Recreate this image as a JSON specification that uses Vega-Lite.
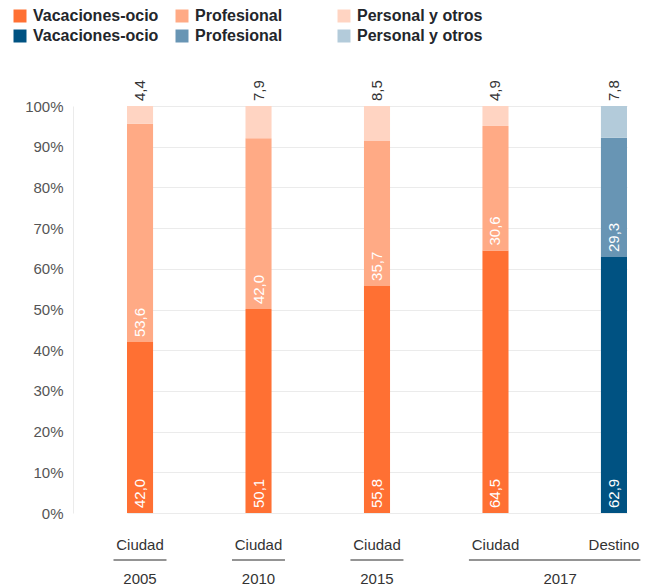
{
  "$schema": "https://vega.github.io/schema/vega-lite/v6.json",
  "autosize": {"type": "none"},
  "padding": {"left": 73, "top": 106, "right": 7, "bottom": 74},
  "width": 587,
  "height": 407,
  "config": {
    "view": {"stroke": null},
    "font": "Liberation Sans",
    "locale": {"number": {"decimal": ",", "thousands": ".", "grouping": [3], "currency": ["", " €"]}}
  },
  "resolve": {"scale": {"x": "independent", "y": "independent"}},
  "layer": [
    {
      "data": {
        "values": [
          {"anio": "2005", "tipo": "Ciudad", "motivo": "Vacaciones-ocio", "pct": 42.0},
          {"anio": "2005", "tipo": "Ciudad", "motivo": "Profesional", "pct": 53.6},
          {"anio": "2005", "tipo": "Ciudad", "motivo": "Personal y otros", "pct": 4.4},
          {"anio": "2010", "tipo": "Ciudad", "motivo": "Vacaciones-ocio", "pct": 50.1},
          {"anio": "2010", "tipo": "Ciudad", "motivo": "Profesional", "pct": 42.0},
          {"anio": "2010", "tipo": "Ciudad", "motivo": "Personal y otros", "pct": 7.9},
          {"anio": "2015", "tipo": "Ciudad", "motivo": "Vacaciones-ocio", "pct": 55.8},
          {"anio": "2015", "tipo": "Ciudad", "motivo": "Profesional", "pct": 35.7},
          {"anio": "2015", "tipo": "Ciudad", "motivo": "Personal y otros", "pct": 8.5},
          {"anio": "2017", "tipo": "Ciudad", "motivo": "Vacaciones-ocio", "pct": 64.5},
          {"anio": "2017", "tipo": "Ciudad", "motivo": "Profesional", "pct": 30.6},
          {"anio": "2017", "tipo": "Ciudad", "motivo": "Personal y otros", "pct": 4.9},
          {"anio": "2017", "tipo": "Destino", "motivo": "Vacaciones-ocio", "pct": 62.9},
          {"anio": "2017", "tipo": "Destino", "motivo": "Profesional", "pct": 29.3},
          {"anio": "2017", "tipo": "Destino", "motivo": "Personal y otros", "pct": 7.8}
        ]
      },
      "transform": [
        {"calculate": "datum.anio + ' ' + datum.tipo", "as": "cat"},
        {"calculate": "datum.tipo + '|' + datum.motivo", "as": "clave"},
        {"calculate": "indexof(['Vacaciones-ocio','Profesional','Personal y otros'], datum.motivo)", "as": "orden"},
        {"stack": "pct", "groupby": ["cat"], "sort": [{"field": "orden", "order": "ascending"}], "as": ["y0", "y1"]}
      ],
      "encoding": {
        "x": {
          "field": "cat",
          "type": "nominal",
          "sort": null,
          "scale": {
            "type": "band",
            "domain": ["2005 Ciudad", "2010 Ciudad", "2015 Ciudad", "2017 Ciudad", "2017 Destino"],
            "range": [54, 554],
            "paddingInner": 0.78,
            "paddingOuter": 0
          },
          "axis": {
            "title": null,
            "labelExpr": "split(datum.value, ' ')[1]",
            "labelAngle": 0,
            "labelFontSize": 15,
            "labelColor": "#333333",
            "labelPadding": 24,
            "ticks": false,
            "domain": false,
            "grid": false
          }
        },
        "y": {
          "field": "y0",
          "type": "quantitative",
          "scale": {"domain": [0, 100], "nice": false},
          "axis": {
            "title": null,
            "values": [0, 10, 20, 30, 40, 50, 60, 70, 80, 90, 100],
            "labelExpr": "datum.value + '%'",
            "labelFontSize": 15,
            "labelColor": "#555555",
            "labelPadding": 10,
            "ticks": false,
            "domain": true,
            "domainColor": "#ebebeb",
            "gridColor": "#ebebeb",
            "grid": true
          }
        }
      },
      "layer": [
        {
          "mark": {"type": "bar"},
          "encoding": {
            "y2": {"field": "y1"},
            "color": {
              "field": "clave",
              "type": "nominal",
              "scale": {
                "domain": ["Ciudad|Vacaciones-ocio", "Ciudad|Profesional", "Ciudad|Personal y otros", "Destino|Vacaciones-ocio", "Destino|Profesional", "Destino|Personal y otros"],
                "range": ["#ff7033", "#ffaa85", "#ffd4c2", "#005282", "#6895b4", "#b3cbda"]
              },
              "legend": {
                "title": null,
                "orient": "none",
                "legendX": -61,
                "legendY": -98,
                "columns": 3,
                "direction": "horizontal",
                "gridAlign": "all",
                "columnPadding": 15,
                "rowPadding": 4,
                "padding": 0,
                "symbolType": "square",
                "symbolSize": 169,
                "symbolStrokeWidth": 0,
                "symbolOpacity": 1,
                "labelOffset": 5,
                "labelFontSize": 16,
                "labelFontWeight": "bold",
                "labelColor": "#23262b",
                "labelLimit": 300,
                "labelExpr": "split(datum.label, '|')[1]"
              }
            }
          }
        },
        {
          "transform": [{"filter": "datum.motivo != 'Personal y otros'"}],
          "mark": {"type": "text", "angle": 270, "align": "left", "baseline": "middle", "dx": 5, "fontSize": 15, "color": "#ffffff"},
          "encoding": {
            "text": {"field": "pct", "type": "quantitative", "format": ".1f"}
          }
        },
        {
          "transform": [{"filter": "datum.motivo == 'Personal y otros'"}],
          "mark": {"type": "text", "angle": 270, "align": "left", "baseline": "middle", "dx": 5, "fontSize": 15, "color": "#333333"},
          "encoding": {
            "y": {"field": "y1", "type": "quantitative"},
            "text": {"field": "pct", "type": "quantitative", "format": ".1f"}
          }
        }
      ]
    },
    {
      "data": {
        "values": [
          {"anio": "2005", "desde": "2005 Ciudad", "hasta": "2005 Ciudad"},
          {"anio": "2010", "desde": "2010 Ciudad", "hasta": "2010 Ciudad"},
          {"anio": "2015", "desde": "2015 Ciudad", "hasta": "2015 Ciudad"},
          {"anio": "2017", "desde": "2017 Ciudad", "hasta": "2017 Destino"}
        ]
      },
      "layer": [
        {
          "mark": {"type": "rule", "color": "#707070", "strokeWidth": 1.5},
          "encoding": {
            "x": {
              "field": "desde",
              "type": "nominal",
              "bandPosition": 0,
              "scale": {
                "type": "band",
                "domain": ["2005 Ciudad", "2010 Ciudad", "2015 Ciudad", "2017 Ciudad", "2017 Destino"],
                "range": [40.5, 567.4],
                "paddingInner": 0.5527,
                "paddingOuter": 0
              },
              "axis": null
            },
            "x2": {"field": "hasta", "bandPosition": 1},
            "y": {"datum": -11.55, "type": "quantitative", "scale": {"domain": [0, 100], "nice": false}, "axis": null}
          }
        },
        {
          "transform": [{"filter": "datum.desde == datum.hasta"}],
          "mark": {"type": "text", "fontSize": 15, "color": "#333333", "baseline": "middle"},
          "encoding": {
            "x": {"field": "desde", "type": "nominal", "bandPosition": 0.5},
            "y": {"datum": -16.2, "type": "quantitative"},
            "text": {"field": "anio", "type": "nominal"}
          }
        },
        {
          "transform": [{"filter": "datum.desde != datum.hasta"}],
          "mark": {"type": "text", "fontSize": 15, "color": "#333333", "baseline": "middle"},
          "encoding": {
            "x": {"field": "desde", "type": "nominal", "bandPosition": 1.72},
            "y": {"datum": -16.2, "type": "quantitative"},
            "text": {"field": "anio", "type": "nominal"}
          }
        }
      ]
    }
  ]
}
